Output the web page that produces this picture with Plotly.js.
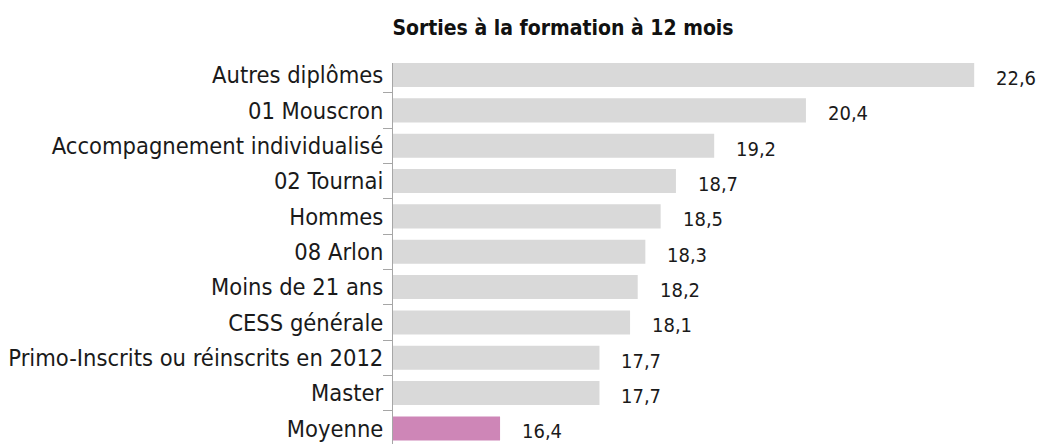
<!DOCTYPE html>
<html>
<head>
<meta charset="utf-8">
<script src="https://cdn.plot.ly/plotly-3.0.1.min.js"></script>
<style>html,body{margin:0;padding:0;background:#fff;}#chart{width:1038px;height:444px;}</style>
</head>
<body>
<div id="chart"></div>
<script>
const categories = ["Autres diplômes","01 Mouscron","Accompagnement individualisé","02 Tournai","Hommes","08 Arlon","Moins de 21 ans","CESS générale","Primo-Inscrits ou réinscrits en 2012","Master","Moyenne"];
const values = [22.6,20.4,19.2,18.7,18.5,18.3,18.2,18.1,17.7,17.7,16.4];
const highlight = "Moyenne";
const titleText = "Sorties à la formation à 12 mois";
const axisStart = 15;

const FONT = "'Liberation Sans Narrow', 'Arial Narrow', 'DejaVu Sans Condensed', 'Roboto Condensed', Roboto, sans-serif";
const colors = categories.map(c => c === highlight ? "#ce86b7" : "#d9d9d9");
const fmt = v => v.toFixed(1).replace(".", ",");

const trace = {
  type: "bar", orientation: "h",
  x: values.map(v => v - axisStart), y: categories,
  base: axisStart,
  marker: {color: colors},
  hoverinfo: "none"
};

const annotations = categories.map((c, i) => ({
  x: values[i], y: c, xref: "x", yref: "y",
  text: fmt(values[i]), showarrow: false,
  xanchor: "left", yanchor: "middle",
  xshift: 20, yshift: -3,
  font: {family: FONT, size: 20, color: "#1a1a1a"}
}));

const layout = {
  width: 1038, height: 444,
  margin: {l: 393, r: 8, t: 63, b: 0, pad: 0},
  paper_bgcolor: "#fff", plot_bgcolor: "#fff",
  showlegend: false,
  bargap: 0.32,
  title: {text: "<b>" + titleText + "</b>", font: {family: FONT, size: 21, color: "#111"},
          x: 563/1038, xref: "container", xanchor: "center", y: 1 - 28/444, yref: "container", yanchor: "middle"},
  xaxis: {range: [axisStart, 23.33], visible: false, showgrid: false, zeroline: false},
  yaxis: {type: "category", categoryorder: "array", categoryarray: categories,
          range: [10.44, -0.34], showline: true, linecolor: "#a6a6a6", linewidth: 1,
          ticks: "outside", tickson: "boundaries", ticklen: 9, tickcolor: "#a6a6a6", tickwidth: 1,
          ticklabelstandoff: 4,
          showgrid: false, zeroline: false,
          tickfont: {family: FONT, size: 23.5, color: "#1a1a1a"}},
  annotations: annotations
};

Plotly.newPlot("chart", [trace], layout, {staticPlot: true, displayModeBar: false});
</script>
</body>
</html>
